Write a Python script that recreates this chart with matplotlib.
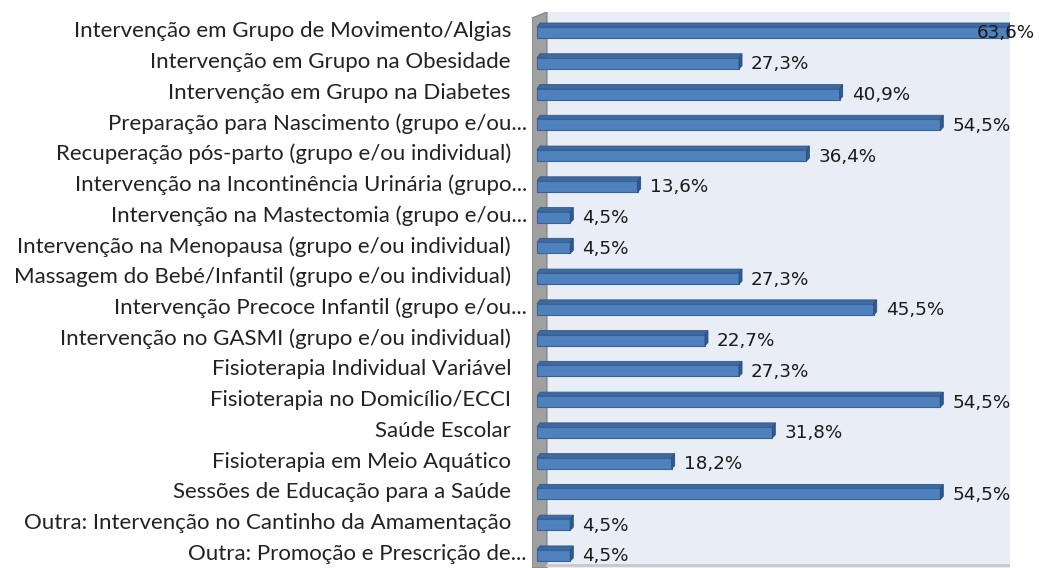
import matplotlib
matplotlib.use("Agg")
import matplotlib.pyplot as plt
from matplotlib.patches import Polygon, Rectangle

# Data
categories = [
    "Intervenção em Grupo de Movimento/Algias",
    "Intervenção em Grupo na Obesidade",
    "Intervenção em Grupo na Diabetes",
    "Preparação para Nascimento (grupo e/ou...",
    "Recuperação pós-parto (grupo e/ou individual)",
    "Intervenção na Incontinência Urinária (grupo...",
    "Intervenção na Mastectomia (grupo e/ou...",
    "Intervenção na Menopausa (grupo e/ou individual)",
    "Massagem do Bebé/Infantil (grupo e/ou individual)",
    "Intervenção Precoce Infantil (grupo e/ou...",
    "Intervenção no GASMI (grupo e/ou individual)",
    "Fisioterapia Individual Variável",
    "Fisioterapia no Domicílio/ECCI",
    "Saúde Escolar",
    "Fisioterapia em Meio Aquático",
    "Sessões de Educação para a Saúde",
    "Outra: Intervenção no Cantinho da Amamentação",
    "Outra: Promoção e Prescrição de...",
]
values = [63.6, 27.3, 40.9, 54.5, 36.4, 13.6, 4.5, 4.5, 27.3,
          45.5, 22.7, 27.3, 54.5, 31.8, 18.2, 54.5, 4.5, 4.5]
value_labels = [f"{v:.1f}%".replace(".", ",") for v in values]

W, H = 1041, 568
fig = plt.figure(figsize=(W / 100, H / 100), dpi=100)
fig.patch.set_facecolor("white")

# pixel geometry of the plot area
sx = 7.4      # px per percent
sy = 30.76    # px per category
x0_px = 537   # pixel of value 0
c0_px = 31    # pixel centre of first bar
ax = fig.add_axes([532 / W, 0, (1010 - 532) / W, (568 - 12) / H])
ax.set_xlim(-5 / sx, (1010 - x0_px) / sx)
ax.set_ylim((568 - c0_px) / sy, (12 - c0_px) / sy)
ax.axis("off")

def px(dx):
    return dx / sx

def py(dy):
    return dy / sy

xl, xr = ax.get_xlim()
yb, yt = ax.get_ylim()
wall_r = px(547 - x0_px)

# back panel
ax.add_patch(Rectangle((wall_r, yt), xr - wall_r, yb - yt,
                       facecolor="#E9EDF6", edgecolor="none", zorder=0))
# side wall
ax.add_patch(Polygon([(xl, yb), (xl, py(18 - c0_px)), (wall_r, yt), (wall_r, yb)],
                     closed=True, facecolor="#A0A0A0", edgecolor="#808080",
                     linewidth=0.8, zorder=1))
# floor line
ax.plot([wall_r, xr], [py(565 - c0_px), py(565 - c0_px)], color="#C8C8C8",
        linewidth=2, zorder=1)

dx = px(3)
for i, v in enumerate(values):
    top = i + py(-8)
    mid = i + py(-4)
    bot = i + py(7)
    # top bevel
    ax.add_patch(Polygon([(0, mid), (v, mid), (v + dx, top), (dx, top)],
                         closed=True, facecolor="#3E6A9F", edgecolor="#345A88",
                         linewidth=0.6, zorder=3))
    # front face
    ax.add_patch(Rectangle((0, mid), v, bot - mid, facecolor="#4F81BD",
                           edgecolor="#38609A", linewidth=0.8, zorder=4))
    # end cap
    ax.add_patch(Polygon([(v, mid), (v + dx, top), (v + dx, i + py(4)), (v, bot)],
                         closed=True, facecolor="#2F5A8C", edgecolor="#2A5080",
                         linewidth=0.6, zorder=4))
    lx = min(v + dx + px(9), px(977 - x0_px))
    ax.text(lx, i + py(2.5), value_labels[i], ha="left", va="center",
            fontsize=13.2, family="DejaVu Sans", color="#1A1A1A", zorder=5)

# category labels, sized to match the reference width of the first label
renderer = fig.canvas.get_renderer()
probe = fig.text(0, 0, categories[0], fontsize=14, family="Lato")
w = probe.get_window_extent(renderer).width
probe.remove()
lab_size = 14 * 438 / w

for i, lab in enumerate(categories):
    xr_px = 527 if lab.endswith("...") else 511
    yc = H - (c0_px + sy * i)
    fig.text(xr_px / W, yc / H, lab, ha="right", va="center",
             fontsize=lab_size, family="Lato", color="#222222")

fig.savefig("out.png", dpi=100)
